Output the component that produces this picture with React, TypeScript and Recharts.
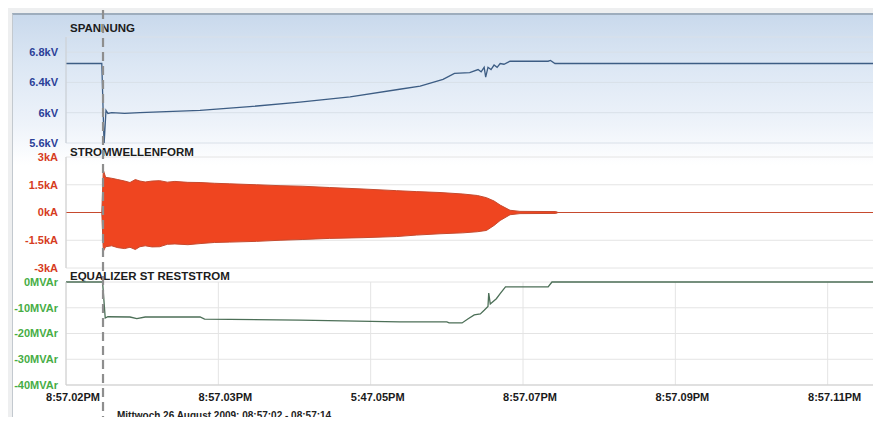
import { ComposedChart, Line, Area, XAxis, YAxis, CartesianGrid, ReferenceLine } from "recharts";

const FONT = '"Liberation Sans", Arial, sans-serif';
const X_END = 10.7;
const xTicks = [0, 2, 4, 6, 8, 10];
const xTickLabels = ["8:57.02PM", "8:57.03PM", "5:47.05PM", "8:57.07PM", "8:57.09PM", "8:57.11PM"];
const eventTime = 0.486;

// Spannung (kV)
const voltTime = [0, 0.47, 0.5, 0.525, 0.55, 0.6, 0.77, 0.97, 1.23, 1.76, 2.41, 3.07, 3.73, 4.38, 4.65, 4.95, 5.1, 5.3, 5.41, 5.45, 5.49, 5.51, 5.54, 5.58, 5.62, 5.66, 5.7, 5.75, 5.83, 6.33, 6.36, 6.42, 10.7];
const voltValue = [6.65, 6.65, 5.58, 6.03, 5.99, 6.0, 5.99, 6.0, 6.01, 6.03, 6.08, 6.14, 6.21, 6.31, 6.35, 6.44, 6.52, 6.53, 6.57, 6.54, 6.6, 6.47, 6.6, 6.57, 6.63, 6.6, 6.65, 6.64, 6.68, 6.68, 6.69, 6.65, 6.65];
const voltTicks = [5.6, 6, 6.4, 6.8, 7];
const voltLabels = ["5.6kV", "6kV", "6.4kV", "6.8kV", ""];

// Stromwellenform envelope (kA)
const currentTime = [0, 0.47, 0.49, 0.52, 0.6, 0.68, 0.77, 0.84, 0.91, 0.97, 1.04, 1.13, 1.23, 1.33, 1.43, 1.6, 1.76, 1.95, 2.15, 2.5, 2.81, 3.1, 3.46, 3.9, 4.34, 4.6, 4.91, 5.21, 5.4, 5.52, 5.62, 5.7, 5.83, 5.96, 6.43, 6.46, 10.7];
const currentLow = [0, 0, -2.1, -1.85, -1.8, -1.9, -1.95, -1.88, -2.0, -1.85, -1.8, -1.86, -1.85, -1.72, -1.7, -1.74, -1.68, -1.62, -1.6, -1.56, -1.5, -1.46, -1.4, -1.36, -1.3, -1.22, -1.15, -1.1, -1.04, -0.97, -0.7, -0.43, -0.12, -0.06, -0.05, 0, 0];
const currentHigh = [0, 0, 2.3, 1.9, 1.85, 1.78, 1.7, 1.62, 1.78, 1.7, 1.65, 1.7, 1.72, 1.64, 1.68, 1.63, 1.62, 1.58, 1.55, 1.5, 1.45, 1.42, 1.35, 1.27, 1.18, 1.13, 1.08, 1.0, 0.92, 0.8, 0.62, 0.4, 0.12, 0.06, 0.05, 0, 0];
const currentTicks = [-3, -1.5, 0, 1.5, 3];
const currentLabels = ["-3kA", "-1.5kA", "0kA", "1.5kA", "3kA"];

// Equalizer St Reststrom (MVAr)
const varTime = [0, 0.48, 0.5, 0.515, 0.55, 0.84, 0.93, 1.04, 1.76, 1.82, 3.07, 4.38, 5.0, 5.03, 5.2, 5.28, 5.36, 5.44, 5.49, 5.54, 5.55, 5.57, 5.65, 5.7, 5.77, 6.33, 6.38, 10.7];
const varValue = [0, 0, -8, -14, -13.5, -13.6, -14.2, -13.6, -13.6, -14.4, -14.8, -15.5, -15.5, -15.9, -15.9, -14.3, -12.8, -12.4, -11, -9.5, -4.3, -8.5, -6.5, -4.5, -1.9, -1.9, 0, 0];
const varTicks = [-40, -30, -20, -10, 0];
const varLabels = ["-40MVAr", "-30MVAr", "-20MVAr", "-10MVAr", "0MVAr"];

const voltData = voltTime.map((t, i) => ({ t, v: voltValue[i] }));
const currentData = currentTime.map((t, i) => ({ t, range: [currentLow[i], currentHigh[i]] }));
const varData = varTime.map((t, i) => ({ t, q: varValue[i] }));
const cursorData = [{ t: 0, y: 0.5 }, { t: X_END, y: 0.5 }];

const labelFrom = (ticks: number[], labels: string[]) => (v: number) => labels[ticks.indexOf(v)] ?? "";

const XTick = (props: any) => {
  const { x, y, payload } = props;
  return (
    <text x={x + 7} y={y + 8} textAnchor="middle" fontSize={11} fontWeight="bold" fill="#1a1a1a" fontFamily={FONT}>
      {xTickLabels[xTicks.indexOf(payload.value)]}
    </text>
  );
};

const yTickStyle = (color: string) => ({ fontSize: 11, fontWeight: "bold" as const, fill: color, fontFamily: FONT });

const titleStyle: React.CSSProperties = {
  position: "absolute",
  left: 70,
  fontFamily: FONT,
  fontWeight: "bold",
  fontSize: 11.5,
  color: "#1c1c1c",
  lineHeight: "12px",
  whiteSpace: "nowrap",
};

export default function App() {
  return (
    <div style={{ position: "relative", width: 881, height: 425, margin: -8, overflow: "hidden", background: "#eeeff0", fontFamily: FONT }}>
      {/* Bildschirmrahmen */}
      <div
        style={{
          position: "absolute",
          left: 12,
          top: 13,
          width: 869,
          height: 412,
          borderTop: "2px solid #9eadbd",
          borderLeft: "1px solid #c3c9cf",
          background: "linear-gradient(#c9d9ec 0px, #dce7f4 50px, #eef3fa 110px, #ffffff 150px, #ffffff 100%)",
        }}
      />

      <div style={{ ...titleStyle, top: 22 }}>SPANNUNG</div>
      <div style={{ ...titleStyle, top: 146 }}>STROMWELLENFORM</div>
      <div style={{ ...titleStyle, top: 270 }}>EQUALIZER ST RESTSTROM</div>

      {/* Spannung */}
      <div style={{ position: "absolute", left: 0, top: 25 }}>
        <ComposedChart width={881} height={130} data={voltData} margin={{ top: 12, right: 0, bottom: 12, left: 0 }}>
          <CartesianGrid stroke="#d9e0e8" strokeWidth={1} />
          <XAxis dataKey="t" type="number" domain={[0, X_END]} ticks={xTicks} tick={false} axisLine={false} tickLine={false} height={0} />
          <YAxis width={66} domain={[5.6, 7]} ticks={voltTicks} tickFormatter={labelFrom(voltTicks, voltLabels)} tick={yTickStyle("#2b3f98")} tickLine={false} axisLine={{ stroke: "#c9ced4" }} allowDataOverflow />
          <Line dataKey="v" type="linear" stroke="#3d5d84" strokeWidth={1.3} dot={false} isAnimationActive={false} />
        </ComposedChart>
      </div>

      {/* Stromwellenform */}
      <div style={{ position: "absolute", left: 0, top: 145 }}>
        <ComposedChart width={881} height={135} data={currentData} margin={{ top: 12, right: 0, bottom: 12, left: 0 }}>
          <CartesianGrid stroke="#e4e4e4" strokeWidth={1} />
          <XAxis dataKey="t" type="number" domain={[0, X_END]} ticks={xTicks} tick={false} axisLine={false} tickLine={false} height={0} />
          <YAxis width={66} domain={[-3, 3]} ticks={currentTicks} tickFormatter={labelFrom(currentTicks, currentLabels)} tick={yTickStyle("#d63c22")} tickLine={false} axisLine={{ stroke: "#d0d0d0" }} />
          <Area dataKey="range" type="linear" stroke="#c64a2e" strokeWidth={1} fill="#ef4520" fillOpacity={1} isAnimationActive={false} />
        </ComposedChart>
      </div>

      {/* Equalizer St Reststrom */}
      <div style={{ position: "absolute", left: 0, top: 270 }}>
        <ComposedChart width={881} height={135} data={varData} margin={{ top: 12, right: 0, bottom: 0, left: 0 }}>
          <CartesianGrid stroke="#e4e4e4" strokeWidth={1} />
          <XAxis dataKey="t" type="number" domain={[0, X_END]} ticks={xTicks} tick={<XTick />} axisLine={{ stroke: "#cfcfcf" }} tickLine={false} height={20} />
          <YAxis width={66} domain={[-40, 0]} ticks={varTicks} tickFormatter={labelFrom(varTicks, varLabels)} tick={yTickStyle("#47ad45")} tickLine={false} axisLine={{ stroke: "#d0d0d0" }} />
          <Line dataKey="q" type="linear" stroke="#4c6f57" strokeWidth={1.3} dot={false} isAnimationActive={false} />
        </ComposedChart>
      </div>

      <div style={{ position: "absolute", left: 117, top: 410, fontSize: 10, lineHeight: "11px", fontWeight: "bold", color: "#222", whiteSpace: "nowrap" }}>
        Mittwoch 26 August 2009: 08:57:02 - 08:57:14
      </div>

      {/* Cursor */}
      <div style={{ position: "absolute", left: 0, top: 0, pointerEvents: "none" }}>
        <ComposedChart width={881} height={425} data={cursorData} margin={{ top: 0, right: 0, bottom: 0, left: 66 }}>
          <XAxis dataKey="t" type="number" domain={[0, X_END]} hide />
          <YAxis hide domain={[0, 1]} />
          <Line dataKey="y" stroke="none" dot={false} isAnimationActive={false} />
          <ReferenceLine x={eventTime} stroke="#8e8e8e" strokeWidth={2.2} strokeDasharray="9 5" />
        </ComposedChart>
      </div>
    </div>
  );
}
